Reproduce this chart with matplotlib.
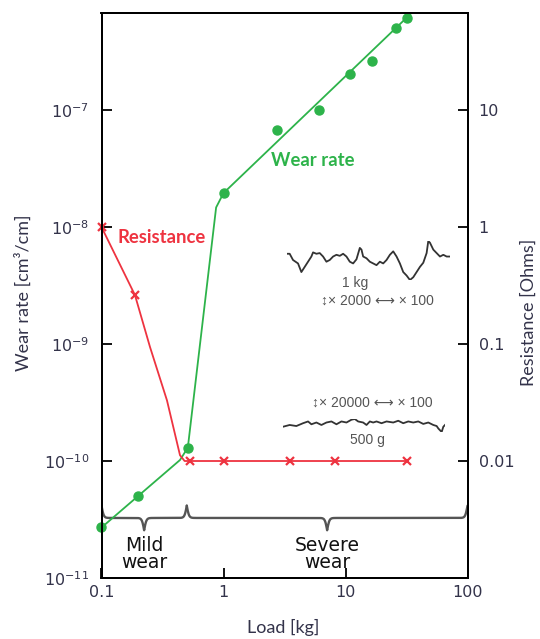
import numpy as np
import matplotlib.pyplot as plt

# wear rate measurements [cm3/cm] vs load [kg]
load_pts = [0.1, 0.2, 0.51, 1.0, 2.75, 6.1, 10.9, 16.5, 25.9, 31.9]
wear_pts = [2.73e-11, 5.0e-11, 1.3e-10, 1.95e-8, 6.8e-8, 1.0e-7, 2.05e-7, 2.6e-7, 5.0e-7, 6.1e-7]

# hand-drawn trend line through the wear points
wear_fit_x = [0.1, 0.44, 0.51, 0.87, 1.0, 34.0]
wear_fit_y = [2.7e-11, 1.02e-10, 1.3e-10, 1.47e-8, 1.95e-8, 6.6e-7]

# contact resistance [Ohms]
res_pts_x = [0.1, 0.188, 0.53, 1.0, 3.5, 8.2, 32.0]
res_pts_y = [1.0, 0.262, 0.01, 0.01, 0.01, 0.01, 0.01]
res_fit_x = [0.1, 0.188, 0.25, 0.344, 0.44, 0.48, 32.0]
res_fit_y = [1.0, 0.262, 0.094, 0.033, 0.0112, 0.01, 0.01]

# wear regimes (load range) shown with braces under the data
regimes = [("Mild\nwear", 0.1, 0.5), ("Severe\nwear", 0.5, 100.0)]

# surface profile traces (relative units)
prof_1kg_x = [22, 30, 40, 55, 65, 75, 85, 95, 100, 110, 120, 130, 140, 150, 160, 170, 180, 190,
              200, 210, 220, 230, 240, 245, 250, 260, 270, 280, 290, 300, 310, 320, 330, 340,
              350, 360, 370, 380, 390, 400, 410, 420, 430, 440, 445, 450, 460, 470, 480, 490,
              500, 510]
prof_1kg_h = [72, 72, 90, 100, 125, 110, 95, 80, 68, 72, 70, 80, 95, 90, 80, 75, 78, 72,
              80, 95, 100, 88, 55, 60, 80, 85, 95, 100, 105, 95, 100, 90, 75, 65,
              80, 100, 125, 135, 148, 140, 125, 110, 98, 70, 35, 40, 60, 70, 80, 75,
              80, 80]
prof_500g_x = [40, 60, 80, 100, 115, 125, 140, 155, 170, 185, 200, 215, 230, 245, 255, 265,
               280, 290, 300, 310, 320, 335, 350, 370, 385, 400, 415, 430, 445, 460, 475,
               490, 500, 505, 510, 515, 520, 525]
prof_500g_h = [140, 135, 138, 130, 125, 133, 128, 135, 128, 125, 133, 125, 128, 120, 118, 125,
               128, 135, 125, 128, 125, 130, 125, 128, 123, 130, 125, 128, 125, 132, 128,
               135, 138, 145, 150, 155, 140, 135]

GREEN = "#2db34a"
RED = "#ee3340"
TXT = "#33334a"

W, H = 540, 639


def px(x, y):
    return x / W, 1 - y / H


def draw_brace(ax, x0, x1, yb, h, beta=110, **kw):
    # curly brace in log-x / log-y space, ends curl up, tip points down
    l0, l1 = np.log10(x0), np.log10(x1)
    half = (l1 - l0) / 2
    u = np.linspace(0, half, 300)
    yh = 1 / (1 + np.exp(-beta * (u - u[0]))) + 1 / (1 + np.exp(-beta * (u - u[-1])))
    ly = np.log10(yb) - (yh - 1) * 2 * h
    xs = np.concatenate([l0 + u, l1 - u[::-1]])
    ys = np.concatenate([ly, ly[::-1]])
    ax.plot(10 ** xs, 10 ** ys, **kw)


fig = plt.figure(figsize=(W / 100, H / 100), dpi=100)
ax = fig.add_axes([101.5 / W, 1 - 578 / H, 366 / W, 565 / H])
ax2 = ax.twinx()

ax.set_xscale("log")
ax.set_yscale("log")
ax2.set_yscale("log")
ax.set_xlim(0.1, 100)
ax.set_ylim(1e-11, 6.75e-7)
ax2.set_ylim(1e-3, 67.5)

# wear rate
ax.plot(wear_fit_x, wear_fit_y, color=GREEN, lw=1.3, zorder=3)
ax.plot(load_pts, wear_pts, "o", color=GREEN, ms=6.5, zorder=4, clip_on=False)

# resistance
ax2.plot(res_fit_x, res_fit_y, color=RED, lw=1.3)
ax2.plot(res_pts_x, res_pts_y, "x", color=RED, ms=6, mew=1.6, clip_on=False)

# regime braces
for name, a, b in regimes:
    draw_brace(ax, a, b, 3.26e-11, 0.105, color="#555555", lw=1.7, solid_capstyle="round")
    ax.text(np.sqrt(a * b), 1.6e-11, name, ha="center", va="center", fontsize=13.5,
            family="DejaVu Sans", color="#111111", linespacing=0.9)

ax.text(5.4, 3.7e-8, "Wear rate", color=GREEN, fontsize=13.3, fontweight="bold",
        family="Lato", ha="center", va="center")
ax.text(0.31, 8.1e-9, "Resistance", color=RED, fontsize=13.3, fontweight="bold",
        family="Lato", ha="center", va="center")

# ticks
ax.set_xticks([0.1, 1, 10, 100])
ax.set_xticklabels(["0.1", "1", "10", "100"])
ax.set_yticks([1e-11, 1e-10, 1e-9, 1e-8, 1e-7])
ax.set_yticklabels([r"$10^{-11}$", r"$10^{-10}$", r"$10^{-9}$", r"$10^{-8}$", r"$10^{-7}$"])
ax2.set_yticks([0.01, 0.1, 1, 10])
ax2.set_yticklabels(["0.01", "0.1", "1", "10"])
ax.minorticks_off()
ax2.minorticks_off()
ax.tick_params(axis="x", direction="in", length=7, width=1.3, labelsize=11.5,
               labelcolor=TXT, pad=5, top=False)
ax.tick_params(axis="y", direction="in", length=7, width=1.3, labelsize=11.5,
               labelcolor=TXT, pad=9)
ax2.tick_params(axis="y", direction="in", length=7, width=1.3, labelsize=11.5,
                labelcolor=TXT, pad=8)
for a in (ax, ax2):
    for s in a.spines.values():
        s.set_linewidth(1.4)

ax.set_xlabel("Load [kg]", fontsize=13, family="Lato", color=TXT)
ax.set_ylabel("Wear rate [cm³/cm]", fontsize=13, family="Lato", color=TXT)
ax2.set_ylabel("Resistance [Ohms]", fontsize=13, family="Lato", color=TXT)
ax.xaxis.set_label_coords(0.496, -0.072)
ax.yaxis.set_label_coords(-0.19, 0.505)
ax2.yaxis.set_label_coords(1.145, 0.47)

# profile sketches
for (x0, y0, x1, y1), xs, hs in [((287, 241, 450, 280), prof_1kg_x, prof_1kg_h),
                                 ((283, 419, 445, 432), prof_500g_x, prof_500g_h)]:
    l, t = px(x0, y0)
    r, b = px(x1, y1)
    ins = fig.add_axes([l, b, r - l, t - b])
    ins.plot(xs, hs, color="#333333", lw=1.3)
    ins.set_xlim(min(xs), max(xs))
    ins.set_ylim(max(hs), min(hs))
    ins.axis("off")

small = dict(fontsize=10, color="#555555", family=["Liberation Sans", "DejaVu Sans"],
             ha="center", va="center")
fig.text(*px(355, 283), "1 kg", **small)
fig.text(*px(377, 301), "↕× 2000 ⟷ × 100", **small)
fig.text(*px(372, 403), "↕× 20000 ⟷ × 100", **small)
fig.text(*px(367, 440), "500 g", **small)

fig.savefig("out.png", dpi=100)
